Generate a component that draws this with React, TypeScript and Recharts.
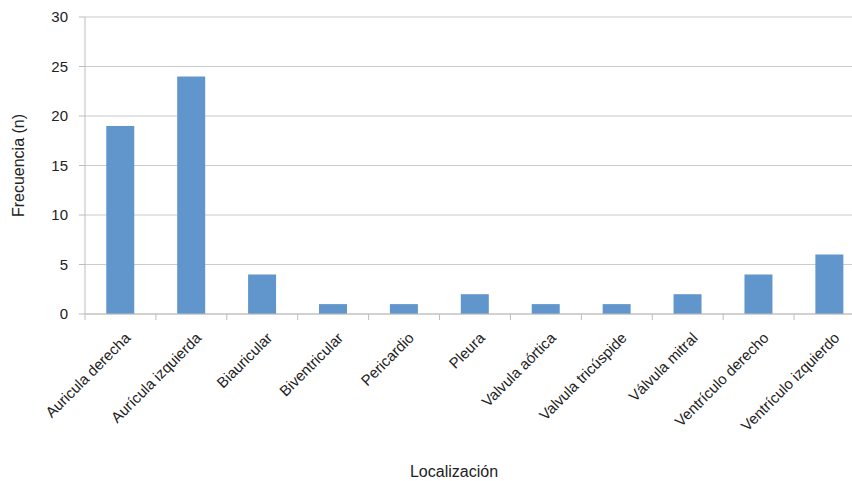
import { BarChart, Bar, XAxis, YAxis, CartesianGrid } from 'recharts'

const localizaciones = [
  'Auricula derecha',
  'Aurícula izquierda',
  'Biauricular',
  'Biventricular',
  'Pericardio',
  'Pleura',
  'Valvula aórtica',
  'Valvula tricúspide',
  'Válvula mitral',
  'Ventrículo derecho',
  'Ventrículo izquierdo',
]
const frecuencias = [19, 24, 4, 1, 1, 2, 1, 1, 2, 4, 6]
const yTicks = [0, 5, 10, 15, 20, 25, 30]

const data = localizaciones.map((name, i) => ({ name, n: frecuencias[i] }))

const CHART_W = 880
const CHART_H = 481
const MARGIN = { top: 17, right: 15, left: 0, bottom: 0 }
const Y_AXIS_W = 85
const BAND = (CHART_W - MARGIN.left - MARGIN.right - Y_AXIS_W) / localizaciones.length

const FONT = 'Liberation Sans, Arial, Helvetica, sans-serif'
const axisColor = '#bdbdbd'

// tick marks sit between categories, like Excel
function CategoryTick(props: any) {
  const { x, y, payload } = props
  const left = x - BAND / 2
  return (
    <g>
      <line x1={left} y1={y - 8} x2={left} y2={y - 2} stroke={axisColor} />
      <text
        x={x + 3}
        y={y + 9}
        transform={`rotate(-45, ${x + 3}, ${y + 9})`}
        textAnchor="end"
        dominantBaseline="hanging"
        fontSize={15}
        fontFamily={FONT}
        fill="#222"
      >
        {payload.value}
      </text>
    </g>
  )
}

export default function App() {
  return (
    <div style={{ position: 'fixed', left: 0, top: 0, width: 852, height: 481, overflow: 'hidden', background: '#fff' }}>
      <BarChart width={CHART_W} height={CHART_H} data={data} margin={MARGIN} barCategoryGap="30%">
        <CartesianGrid vertical={false} stroke="#cccccc" strokeWidth={1.2} />
        <XAxis
          dataKey="name"
          interval={0}
          height={167}
          stroke={axisColor}
          tickLine={false}
          tick={<CategoryTick />}
          label={{
            content: () => (
              <text x={454} y={477} textAnchor="middle" fontSize={16} fontFamily={FONT} fill="#222">
                Localización
              </text>
            ),
          }}
        />
        <YAxis
          width={Y_AXIS_W}
          domain={[0, 30]}
          ticks={yTicks}
          stroke={axisColor}
          tickSize={6}
          tickMargin={11}
          tick={{ fontSize: 15, fontFamily: FONT, fill: '#222' }}
          label={{
            value: 'Frecuencia (n)',
            angle: -90,
            position: 'insideLeft',
            offset: 18,
            style: { textAnchor: 'middle', fontSize: 16, fontFamily: FONT, fill: '#222' },
          }}
        />
        <Bar dataKey="n" fill="#6196cd" isAnimationActive={false} />
      </BarChart>
    </div>
  )
}
